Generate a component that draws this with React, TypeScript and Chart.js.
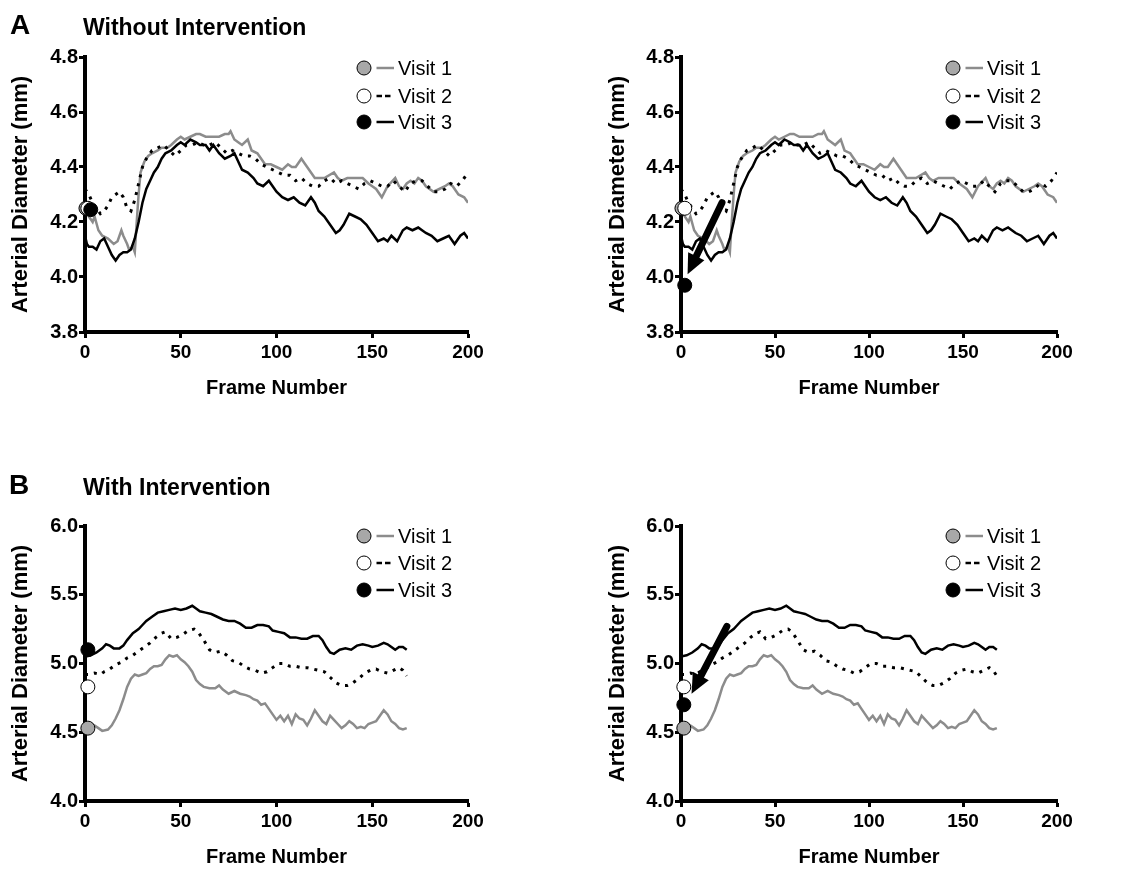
import React, { useEffect, useRef } from "react";
import { Chart, registerables } from "chart.js";

Chart.register(...registerables);

const FONT = "'Liberation Sans', Arial, Helvetica, sans-serif";

// ---------- Panel A (without intervention) ----------
const aFrames1 = [0, 2, 4, 5, 7, 9, 12, 15, 17, 19, 20, 22, 23, 25, 26, 27, 28, 29, 31, 33, 35, 38, 40, 43, 45, 48, 50, 52, 55, 58, 60, 63, 65, 68, 70, 73, 75, 76, 78, 80, 82, 85, 87, 90, 92, 94, 97, 100, 103, 106, 108, 110, 113, 115, 117, 120, 125, 130, 132, 134, 137, 142, 145, 148, 150, 152, 155, 158, 162, 164, 166, 168, 170, 172, 174, 176, 178, 182, 185, 188, 190, 192, 195, 198, 200];
const aVisit1 = [4.25, 4.22, 4.2, 4.22, 4.17, 4.15, 4.14, 4.12, 4.13, 4.17, 4.15, 4.12, 4.1, 4.11, 4.09, 4.2, 4.3, 4.38, 4.42, 4.44, 4.45, 4.46, 4.47, 4.47, 4.48, 4.5, 4.51, 4.5, 4.51, 4.52, 4.52, 4.51, 4.51, 4.51, 4.51, 4.52, 4.52, 4.53, 4.5, 4.49, 4.48, 4.5, 4.46, 4.45, 4.43, 4.41, 4.41, 4.4, 4.39, 4.41, 4.4, 4.4, 4.43, 4.41, 4.39, 4.36, 4.36, 4.38, 4.36, 4.35, 4.36, 4.36, 4.36, 4.34, 4.33, 4.32, 4.29, 4.33, 4.36, 4.33, 4.32, 4.34, 4.35, 4.34, 4.36, 4.35, 4.33, 4.31, 4.32, 4.33, 4.34, 4.33, 4.3, 4.29, 4.27];

const aFrames2 = [0, 1, 2, 4, 6, 8, 10, 12, 14, 16, 18, 20, 22, 24, 26, 28, 30, 32, 35, 38, 41, 44, 47, 50, 53, 56, 59, 62, 65, 68, 71, 74, 77, 80, 83, 86, 89, 92, 95, 98, 101, 104, 107, 110, 113, 116, 119, 122, 125, 128, 131, 134, 137, 140, 143, 146, 149, 152, 155, 158, 161, 164, 167, 170, 173, 176, 179, 182, 185, 188, 191, 194, 197, 200];
const aVisit2 = [4.32, 4.31, 4.3, 4.27, 4.25, 4.23, 4.24, 4.26, 4.29, 4.3, 4.31, 4.29, 4.25, 4.24, 4.28, 4.34, 4.4, 4.43, 4.46, 4.47, 4.48, 4.46, 4.44, 4.46, 4.48, 4.48, 4.49, 4.48, 4.48, 4.49, 4.47, 4.45, 4.46, 4.45, 4.44, 4.44, 4.43, 4.41, 4.4, 4.39, 4.38, 4.37, 4.37, 4.35, 4.36, 4.34, 4.33, 4.33, 4.35, 4.36, 4.34, 4.35, 4.34, 4.33, 4.32, 4.34, 4.35, 4.34, 4.33, 4.33, 4.35, 4.33, 4.31, 4.34, 4.35, 4.35, 4.33, 4.31, 4.31, 4.32, 4.34, 4.33, 4.35, 4.38];

const aFrames3 = [0, 1, 2, 4, 6, 8, 10, 12, 14, 16, 18, 20, 22, 24, 26, 28, 30, 32, 34, 36, 38, 40, 42, 45, 48, 50, 52, 55, 58, 60, 63, 65, 67, 70, 73, 76, 78, 80, 82, 85, 88, 90, 93, 96, 98, 100, 103, 106, 109, 112, 115, 118, 120, 122, 125, 128, 131, 133, 135, 138, 141, 144, 147, 150, 153, 156, 158, 160, 163, 166, 168, 171, 174, 176, 178, 181, 184, 187, 190, 193, 196, 198, 200];
const aVisit3 = [4.15, 4.12, 4.11, 4.11, 4.1, 4.13, 4.14, 4.11, 4.08, 4.06, 4.08, 4.09, 4.09, 4.1, 4.14, 4.2, 4.27, 4.32, 4.35, 4.38, 4.4, 4.43, 4.45, 4.46, 4.48, 4.49, 4.48, 4.5, 4.49, 4.48, 4.48, 4.46, 4.48, 4.45, 4.43, 4.44, 4.45, 4.42, 4.39, 4.38, 4.36, 4.34, 4.33, 4.35, 4.33, 4.31, 4.29, 4.28, 4.29, 4.27, 4.26, 4.29, 4.27, 4.24, 4.22, 4.19, 4.16, 4.17, 4.19, 4.23, 4.22, 4.21, 4.19, 4.16, 4.13, 4.14, 4.13, 4.15, 4.13, 4.17, 4.18, 4.17, 4.18, 4.17, 4.16, 4.15, 4.13, 4.14, 4.15, 4.12, 4.15, 4.16, 4.14];

// ---------- Panel B (with intervention) ----------
const bFrames1 = [0, 3, 5, 7, 9, 12, 14, 16, 18, 20, 22, 24, 26, 28, 30, 32, 34, 36, 38, 40, 42, 44, 46, 48, 50, 52, 54, 56, 58, 60, 62, 65, 68, 70, 72, 75, 78, 81, 84, 86, 88, 90, 92, 94, 96, 98, 100, 102, 104, 106, 108, 110, 112, 114, 116, 118, 120, 122, 124, 126, 128, 130, 132, 134, 136, 138, 140, 142, 144, 146, 148, 150, 152, 154, 156, 158, 160, 162, 164, 166, 168];
const bVisit1 = [4.55, 4.55, 4.55, 4.53, 4.51, 4.52, 4.55, 4.6, 4.66, 4.74, 4.83, 4.89, 4.92, 4.91, 4.92, 4.93, 4.96, 4.98, 4.98, 4.99, 5.03, 5.06, 5.05, 5.06, 5.03, 5.01, 4.98, 4.94, 4.88, 4.85, 4.83, 4.82, 4.82, 4.84, 4.81, 4.78, 4.8, 4.78, 4.77, 4.76, 4.74, 4.73, 4.7, 4.71, 4.67, 4.63, 4.59, 4.62, 4.58, 4.62, 4.56, 4.63, 4.6, 4.59, 4.55, 4.6, 4.66, 4.62, 4.58, 4.56, 4.62, 4.59, 4.56, 4.53, 4.55, 4.58, 4.56, 4.53, 4.54, 4.53, 4.56, 4.57, 4.58, 4.62, 4.66, 4.63, 4.58, 4.56, 4.53, 4.52, 4.53];

const bFrames2 = [0, 2, 5, 8, 10, 13, 16, 19, 22, 25, 28, 31, 34, 37, 40, 42, 45, 48, 51, 54, 57, 59, 62, 65, 68, 71, 74, 77, 80, 83, 86, 89, 92, 95, 98, 101, 104, 107, 110, 113, 116, 119, 122, 125, 128, 131, 134, 137, 140, 143, 146, 149, 152, 155, 158, 161, 164, 166, 168];
const bVisit2 = [4.92, 4.92, 4.93, 4.92, 4.94, 4.96, 4.99, 5.01, 5.04, 5.06, 5.09, 5.12, 5.15, 5.19, 5.22, 5.23, 5.18, 5.19, 5.21, 5.24, 5.25, 5.23, 5.17, 5.1, 5.08, 5.09, 5.06, 5.02, 5.01, 4.98, 4.96, 4.95, 4.93, 4.94, 4.97, 5.0, 5.0, 4.98, 4.98, 4.97, 4.97, 4.96, 4.95, 4.94, 4.9, 4.86, 4.84, 4.84, 4.86, 4.89, 4.93, 4.95, 4.96, 4.94, 4.93, 4.95, 4.97, 4.95, 4.91];

const bFrames3 = [0, 3, 6, 9, 11, 13, 15, 18, 20, 22, 25, 28, 30, 32, 35, 38, 41, 44, 47, 50, 53, 56, 58, 60, 63, 66, 69, 72, 75, 78, 81, 84, 87, 90, 93, 96, 98, 101, 104, 107, 110, 113, 116, 119, 122, 124, 126, 128, 130, 133, 136, 139, 142, 145, 148, 150, 153, 156, 158, 160, 162, 164, 166, 168];
const bVisit3 = [5.05, 5.06, 5.08, 5.11, 5.14, 5.13, 5.11, 5.11, 5.13, 5.17, 5.22, 5.25, 5.28, 5.31, 5.34, 5.37, 5.38, 5.39, 5.4, 5.39, 5.4, 5.42, 5.4, 5.38, 5.37, 5.36, 5.34, 5.32, 5.31, 5.31, 5.29, 5.26, 5.26, 5.28, 5.28, 5.27, 5.24, 5.23, 5.22, 5.19, 5.19, 5.18, 5.18, 5.2, 5.2, 5.17, 5.12, 5.08, 5.07, 5.1, 5.11, 5.1, 5.13, 5.14, 5.13, 5.12, 5.13, 5.15, 5.14, 5.12, 5.1, 5.12, 5.12, 5.1];

// ---------- baseline markers (order: Visit 1, Visit 2, Visit 3) ----------
const aLeftMarkerFrames = [0.5, 1.5, 3];
const aLeftMarkerValues = [4.25, 4.25, 4.245];
const aRightMarkerFrames = [0.5, 2, 2];
const aRightMarkerValues = [4.25, 4.25, 3.97];
const bLeftMarkerFrames = [1.5, 1.5, 1.5];
const bLeftMarkerValues = [4.53, 4.83, 5.1];
const bRightMarkerFrames = [1.5, 1.5, 1.5];
const bRightMarkerValues = [4.53, 4.83, 4.7];

// ---------- arrows (start, tip) ----------
const aArrowFrames = [21.8, 3.5];
const aArrowValues = [4.27, 4.01];
const bArrowFrames = [24.4, 5.6];
const bArrowValues = [5.27, 4.78];

// ---------- ticks & labels ----------
const xTicks = [0, 50, 100, 150, 200];
const aYTicks = [3.8, 4.0, 4.2, 4.4, 4.6, 4.8];
const bYTicks = [4.0, 4.5, 5.0, 5.5, 6.0];
const legendLabels = ["Visit 1", "Visit 2", "Visit 3"];

const GRAY_LINE = "#8c8c8c";
const GRAY_FILL = "#a8a8a8";
const markerFills = [GRAY_FILL, "#ffffff", "#000000"];

const toPts = (fr: number[], vals: number[]) => fr.map((f, i) => ({ x: f, y: vals[i] }));

const legendPlugin = {
  id: "visitLegend",
  afterDraw(chart: any, _args: any, opts: any) {
    const { ctx, chartArea } = chart;
    const cx = chartArea.right - 104;
    const rows: number[] = opts.rows;
    ctx.save();
    rows.forEach((dy, i) => {
      const cy = chartArea.top + dy;
      ctx.lineCap = "butt";
      ctx.lineWidth = 2.5;
      ctx.strokeStyle = i === 0 ? GRAY_LINE : "#000";
      ctx.beginPath();
      if (i === 1) {
        ctx.moveTo(cx + 12.5, cy);
        ctx.lineTo(cx + 18, cy);
        ctx.moveTo(cx + 21, cy);
        ctx.lineTo(cx + 26.5, cy);
      } else {
        ctx.moveTo(cx + 12.5, cy);
        ctx.lineTo(cx + 30, cy);
      }
      ctx.stroke();
      ctx.beginPath();
      ctx.arc(cx, cy, 7, 0, Math.PI * 2);
      ctx.fillStyle = markerFills[i];
      ctx.fill();
      ctx.lineWidth = 1;
      ctx.strokeStyle = "#000";
      ctx.stroke();
      ctx.fillStyle = "#000";
      ctx.font = `20px ${FONT}`;
      ctx.textAlign = "left";
      ctx.textBaseline = "middle";
      ctx.fillText(legendLabels[i], cx + 34, cy + 1);
    });
    ctx.restore();
  },
};

const arrowPlugin = {
  id: "arrow",
  afterDatasetsDraw(chart: any, _args: any, opts: any) {
    if (!opts || !opts.frames) return;
    const { ctx } = chart;
    const xs = chart.scales.x;
    const ys = chart.scales.y;
    const x0 = xs.getPixelForValue(opts.frames[0]);
    const y0 = ys.getPixelForValue(opts.values[0]);
    const x1 = xs.getPixelForValue(opts.frames[1]);
    const y1 = ys.getPixelForValue(opts.values[1]);
    const ang = Math.atan2(y1 - y0, x1 - x0);
    const headLen = 20;
    const headHalf = 9;
    const bx = x1 - headLen * Math.cos(ang);
    const by = y1 - headLen * Math.sin(ang);
    ctx.save();
    ctx.strokeStyle = "#000";
    ctx.fillStyle = "#000";
    ctx.lineWidth = 7;
    ctx.lineCap = "round";
    ctx.beginPath();
    ctx.moveTo(x0, y0);
    ctx.lineTo(bx + 2 * Math.cos(ang), by + 2 * Math.sin(ang));
    ctx.stroke();
    ctx.beginPath();
    ctx.moveTo(x1, y1);
    ctx.lineTo(bx + headHalf * Math.sin(ang), by - headHalf * Math.cos(ang));
    ctx.lineTo(bx - headHalf * Math.sin(ang), by + headHalf * Math.cos(ang));
    ctx.closePath();
    ctx.fill();
    ctx.restore();
  },
};

type PanelProps = {
  left: number;
  top: number;
  width: number;
  height: number;
  padLeft: number;
  padRight: number;
  yWidth: number;
  series: { frames: number[]; values: number[] }[];
  yMin: number;
  yMax: number;
  yTicks: number[];
  markerFrames: number[];
  markerValues: number[];
  markerOrder: number[];
  legendRows: number[];
  arrow?: { frames: number[]; values: number[] };
};

function Panel(p: PanelProps) {
  const ref = useRef<HTMLCanvasElement>(null);
  useEffect(() => {
    if (!ref.current) return;
    Chart.defaults.font.family = FONT;
    const lineStyles = [
      { borderColor: GRAY_LINE, borderWidth: 2.5, borderDash: [] as number[], order: 12 },
      { borderColor: "#000", borderWidth: 3, borderDash: [3, 6], order: 10 },
      { borderColor: "#000", borderWidth: 2.5, borderDash: [] as number[], order: 11 },
    ];
    const lineSets = p.series.map((s, i) => ({
      label: legendLabels[i],
      data: toPts(s.frames, s.values),
      borderColor: lineStyles[i].borderColor,
      borderWidth: lineStyles[i].borderWidth,
      borderDash: lineStyles[i].borderDash,
      borderCapStyle: "butt",
      pointRadius: 0,
      tension: 0,
      fill: false,
      order: lineStyles[i].order,
    }));
    const markerSets = p.markerFrames.map((f, i) => ({
      label: legendLabels[i] + " baseline",
      data: [{ x: f, y: p.markerValues[i] }],
      showLine: false,
      pointRadius: 7,
      pointBorderWidth: 1,
      pointBorderColor: "#000",
      pointBackgroundColor: markerFills[i],
      clip: false,
      order: p.markerOrder[i],
    }));
    const chart = new Chart(ref.current, {
      type: "line",
      data: { datasets: [...lineSets, ...markerSets] as any },
      plugins: [legendPlugin, arrowPlugin],
      options: {
        animation: false,
        responsive: false,
        devicePixelRatio: 1,
        events: [],
        layout: { padding: { left: p.padLeft, top: 57, right: p.padRight, bottom: 0 } },
        plugins: {
          legend: { display: false },
          tooltip: { enabled: false },
          visitLegend: { rows: p.legendRows },
          arrow: p.arrow ? { frames: p.arrow.frames, values: p.arrow.values } : {},
        } as any,
        scales: {
          x: {
            type: "linear",
            min: 0,
            max: 200,
            afterBuildTicks: (s: any) => {
              s.ticks = xTicks.map((v) => ({ value: v }));
            },
            afterFit: (s: any) => {
              s.height = p.height - 332;
            },
            ticks: {
              color: "#000",
              font: { size: 19, weight: "bold" },
              padding: 3,
              maxRotation: 0,
              callback: (v: any) => String(v),
            },
            grid: {
              display: true,
              drawOnChartArea: false,
              drawTicks: true,
              tickLength: 6,
              tickWidth: 3,
              tickColor: "#000",
            },
            border: { display: true, color: "#000", width: 4 },
            title: {
              display: true,
              text: "Frame Number",
              color: "#000",
              font: { size: 20, weight: "bold" },
              padding: { top: 0, bottom: 0 },
            },
          },
          y: {
            type: "linear",
            min: p.yMin,
            max: p.yMax,
            afterBuildTicks: (s: any) => {
              s.ticks = p.yTicks.map((v) => ({ value: v }));
            },
            afterFit: (s: any) => {
              s.width = p.yWidth;
            },
            ticks: {
              color: "#000",
              font: { size: 20, weight: "bold" },
              padding: 1,
              callback: (v: any) => Number(v).toFixed(1),
            },
            grid: {
              display: true,
              drawOnChartArea: false,
              drawTicks: true,
              tickLength: 6,
              tickWidth: 3,
              tickColor: "#000",
            },
            border: { display: true, color: "#000", width: 4 },
            title: {
              display: true,
              text: "Arterial Diameter (mm)",
              color: "#000",
              font: { size: 22, weight: "bold" },
              padding: { top: 8, bottom: 0 },
            },
          },
        },
      } as any,
    });
    return () => chart.destroy();
  }, []);
  return (
    <canvas
      ref={ref}
      width={p.width}
      height={p.height}
      style={{ position: "absolute", left: p.left, top: p.top, width: p.width, height: p.height }}
    />
  );
}

const aSeries = [
  { frames: aFrames1, values: aVisit1 },
  { frames: aFrames2, values: aVisit2 },
  { frames: aFrames3, values: aVisit3 },
];
const bSeries = [
  { frames: bFrames1, values: bVisit1 },
  { frames: bFrames2, values: bVisit2 },
  { frames: bFrames3, values: bVisit3 },
];

const titleStyle = (left: number, top: number, size: number): React.CSSProperties => ({
  position: "absolute",
  left,
  top,
  font: `bold ${size}px ${FONT}`,
  lineHeight: 1,
  color: "#000",
  whiteSpace: "nowrap",
  zIndex: 2,
});

export default function App() {
  return (
    <div style={{ position: "absolute", left: 0, top: 0, width: 1131, height: 869, background: "#fff", overflow: "hidden" }}>
      <Panel left={0} top={0} width={566} height={400} padLeft={0} padRight={98} yWidth={85}
        series={aSeries} yMin={3.8} yMax={4.8} yTicks={aYTicks}
        markerFrames={aLeftMarkerFrames} markerValues={aLeftMarkerValues} markerOrder={[3, 2, 1]}
        legendRows={[11, 39, 65]} />
      <Panel left={566} top={0} width={565} height={400} padLeft={31} padRight={74} yWidth={84}
        series={aSeries} yMin={3.8} yMax={4.8} yTicks={aYTicks}
        markerFrames={aRightMarkerFrames} markerValues={aRightMarkerValues} markerOrder={[3, 2, 1]}
        legendRows={[11, 39, 65]} arrow={{ frames: aArrowFrames, values: aArrowValues }} />
      <Panel left={0} top={469} width={566} height={400} padLeft={0} padRight={98} yWidth={85}
        series={bSeries} yMin={4.0} yMax={6.0} yTicks={bYTicks}
        markerFrames={bLeftMarkerFrames} markerValues={bLeftMarkerValues} markerOrder={[3, 2, 1]}
        legendRows={[10, 37, 64]} />
      <Panel left={566} top={469} width={565} height={400} padLeft={31} padRight={74} yWidth={84}
        series={bSeries} yMin={4.0} yMax={6.0} yTicks={bYTicks}
        markerFrames={bRightMarkerFrames} markerValues={bRightMarkerValues} markerOrder={[3, 2, 1]}
        legendRows={[10, 37, 64]} arrow={{ frames: bArrowFrames, values: bArrowValues }} />
      <div style={titleStyle(10, 11, 28)}>A</div>
      <div style={titleStyle(83, 15.5, 23)}>Without Intervention</div>
      <div style={titleStyle(9, 471, 28)}>B</div>
      <div style={titleStyle(83, 476, 23)}>With Intervention</div>
    </div>
  );
}
